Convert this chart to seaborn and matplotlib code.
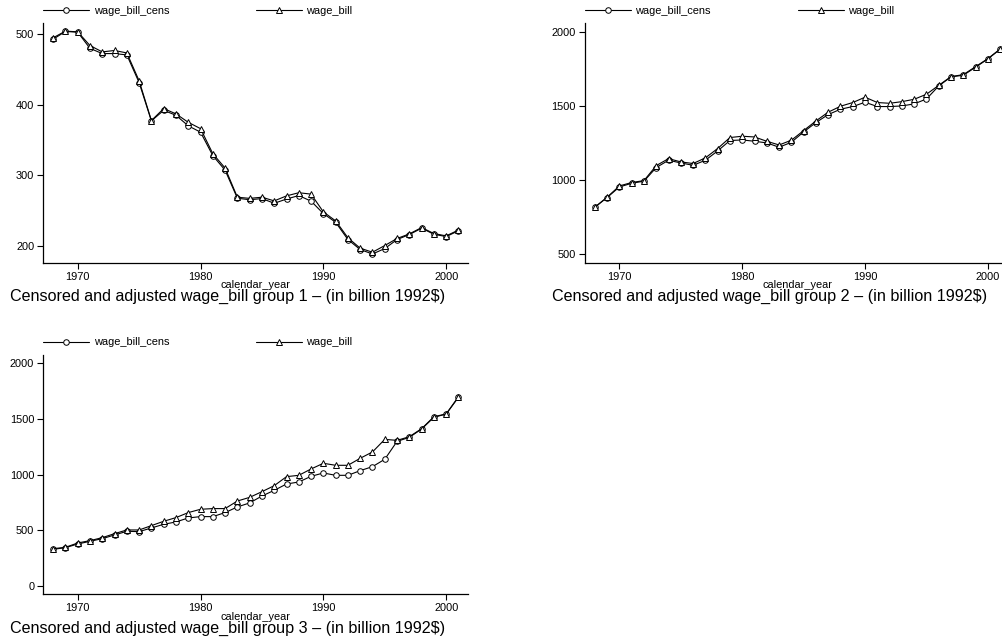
import numpy as np
import pandas as pd
import matplotlib
matplotlib.use("Agg")
import matplotlib.pyplot as plt
import seaborn as sns

years = list(range(1968, 2002))

g1_cens = [493, 504, 503, 480, 472.6, 472.6, 470.7, 431.4, 377, 392, 385, 370, 361,
           327.7, 307, 267.2, 265, 266.7, 260, 266, 271, 263, 245.4, 233, 208.5, 194.3,
           188, 195.7, 208.5, 215.6, 224.6, 216, 212.7, 221]
g1_bill = [495, 504.5, 503.5, 484, 475, 477, 473.5, 434, 377.5, 394.5, 387, 375, 366,
           330.5, 310, 268.6, 267, 268.6, 263.4, 270.5, 275, 273, 247.8, 235, 211, 196.2,
           190.5, 200, 210, 216.5, 225.5, 217, 213.7, 222]

g2_cens = [816, 882, 953, 978, 992, 1084, 1133, 1115, 1099, 1133, 1196, 1266, 1270,
           1261, 1250, 1221, 1254, 1324, 1387, 1441, 1477, 1495, 1524, 1495, 1495, 1499,
           1513, 1546, 1634, 1695, 1706, 1760, 1816, 1881]
g2_bill = [817, 884, 960, 983, 996, 1097, 1144, 1122, 1111, 1149, 1212, 1286, 1295,
           1290, 1261, 1236, 1268, 1333, 1398, 1457, 1497, 1522, 1558, 1522, 1517, 1528,
           1544, 1578, 1638, 1697, 1710, 1764, 1818, 1883]

g3_cens = [329, 344, 377, 401, 425, 458, 491, 488, 521, 554, 575, 611, 623, 623, 659,
           710, 746, 808, 859, 916, 934, 985, 1015, 994, 994, 1036, 1072, 1138, 1299,
           1335, 1410, 1515, 1545, 1695]
g3_bill = [335, 347, 386, 407, 434, 470, 503, 503, 542, 581, 614, 659, 689, 695, 695,
           763, 796, 847, 901, 982, 994, 1051, 1102, 1084, 1084, 1147, 1204, 1317, 1308,
           1341, 1413, 1521, 1545, 1701]

series_names = ["wage_bill_cens", "wage_bill"]
titles = ["Censored and adjusted wage_bill group 1 \u2013 (in billion 1992$)",
          "Censored and adjusted wage_bill group 2 \u2013 (in billion 1992$)",
          "Censored and adjusted wage_bill group 3 \u2013 (in billion 1992$)"]
yticks = [[200, 300, 400, 500], [500, 1000, 1500, 2000], [0, 500, 1000, 1500, 2000]]
ylims = [(175.9, 515.6), (444, 2056), (-75, 2075)]
xticks = [1970, 1980, 1990, 2000]

sns.set_style("ticks")
plt.rcParams["font.family"] = ["Liberation Sans", "DejaVu Sans"]
plt.rcParams["text.color"] = "black"
plt.rcParams["xtick.color"] = "black"
plt.rcParams["ytick.color"] = "black"
plt.rcParams["axes.labelcolor"] = "black"
plt.rcParams["axes.edgecolor"] = "black"

W, H = 1002, 640
fig = plt.figure(figsize=(W / 100, H / 100), dpi=100)

# axes boxes in pixels: left, top, right, bottom
boxes = [(43.3, 23.3, 468.3, 262.5), (585.0, 23.3, 1010.0, 262.5), (43.3, 355.0, 468.3, 594.3)]
data = [(g1_cens, g1_bill), (g2_cens, g2_bill), (g3_cens, g3_bill)]

fs = 7.9
for i, ((l, t, r, b), (cens, bill)) in enumerate(zip(boxes, data)):
    ax = fig.add_axes([l / W, 1 - b / H, (r - l) / W, (b - t) / H])
    df = pd.DataFrame({"year": years, "wage_bill_cens": cens, "wage_bill": bill})
    sns.lineplot(data=df, x="year", y="wage_bill_cens", ax=ax, color="black",
                 marker="o", markersize=4, markerfacecolor="white",
                 markeredgecolor="black", markeredgewidth=0.7, linewidth=0.8,
                 label=series_names[0], legend=False)
    sns.lineplot(data=df, x="year", y="wage_bill", ax=ax, color="black",
                 marker="^", markersize=4, markerfacecolor="white",
                 markeredgecolor="black", markeredgewidth=0.7, linewidth=0.8,
                 label=series_names[1], legend=False)
    lines = ax.get_lines()
    ax.set_xlim(1967.2, 2001.8)
    ax.set_ylim(*ylims[i])
    ax.set_xticks(xticks)
    ax.set_yticks(yticks[i])
    ax.tick_params(axis="both", labelsize=fs, length=4.5, width=0.8, direction="out", pad=2)
    for s in ["top", "right"]:
        ax.spines[s].set_visible(False)
    for s in ["left", "bottom"]:
        ax.spines[s].set_linewidth(0.9)
    ax.set_ylabel("")
    ax.set_xlabel("calendar_year", fontsize=fs, labelpad=-1)
    ypos = 1 + 12.6 / (b - t)
    leg1 = ax.legend(handles=[lines[0]], labels=[series_names[0]], loc="center left",
                     bbox_to_anchor=(0, ypos), frameon=False, fontsize=fs,
                     handlelength=4.2, handletextpad=0.4, borderpad=0, borderaxespad=0)
    ax.add_artist(leg1)
    ax.legend(handles=[lines[1]], labels=[series_names[1]], loc="center left",
              bbox_to_anchor=(0.5, ypos), frameon=False, fontsize=fs,
              handlelength=4.2, handletextpad=0.4, borderpad=0, borderaxespad=0)
    fig.text((l - 33.3) / W, 1 - (b + 34.3) / H, titles[i], fontsize=11.6,
             ha="left", va="center")

fig.savefig("out.png", dpi=100, facecolor="white")
